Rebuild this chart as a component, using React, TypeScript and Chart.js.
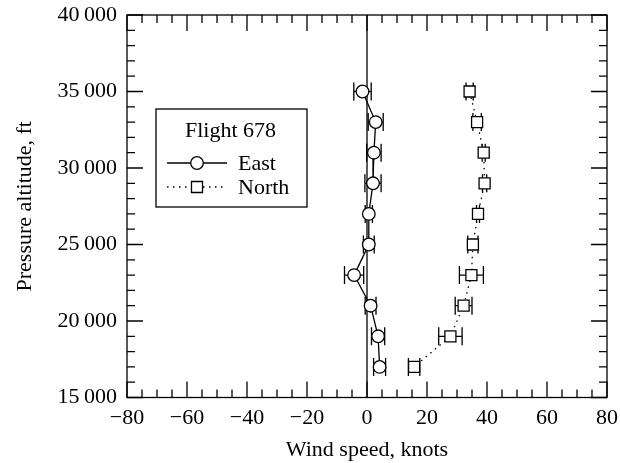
import React, { useEffect, useRef } from "react";
import { Chart, registerables } from "chart.js";
Chart.register(...registerables);

const altitudes = [35000, 33000, 31000, 29000, 27000, 25000, 23000, 21000, 19000, 17000];
const eastSpeed = [-1.5, 2.9, 2.3, 2.0, 0.6, 0.6, -4.3, 1.2, 3.7, 4.2];
const eastError = [2.9, 2.5, 2.4, 2.7, 1.2, 1.8, 3.2, 1.8, 2.2, 2.0];
const northSpeed = [34.2, 36.7, 38.9, 39.2, 37.0, 35.3, 34.8, 32.2, 27.8, 15.7];
const northError = [1.2, 1.4, 0.5, 0.7, 0.5, 1.7, 4.0, 2.8, 3.9, 1.9];
const xTickValues = [-80, -60, -40, -20, 0, 20, 40, 60, 80];
const yTickValues = [15000, 20000, 25000, 30000, 35000, 40000];
const legendTitle = "Flight 678";
const seriesNames = ["East", "North"];

const FONT = "'Liberation Serif', 'Times New Roman', serif";
const FS = 22;
const LW = 1.3;

function fmtNum(v: number): string {
  const neg = v < 0;
  const a = Math.abs(v);
  let s = String(a);
  if (a >= 10000) s = s.slice(0, s.length - 3) + "\u2009" + s.slice(s.length - 3);
  return (neg ? "\u2212" : "") + s;
}

const errorsByDataset = [eastError, northError];

const customPlugin = {
  id: "customDraw",
  beforeDatasetsDraw(chart: any) {
    const { ctx, chartArea: a, scales } = chart;
    const x = scales.x, y = scales.y;
    ctx.save();
    ctx.strokeStyle = "#000";
    ctx.lineWidth = LW;
    ctx.setLineDash([]);
    const x0 = x.getPixelForValue(0);
    ctx.beginPath();
    ctx.moveTo(x0, a.top);
    ctx.lineTo(x0, a.bottom);
    ctx.stroke();
    chart.data.datasets.forEach((ds: any, di: number) => {
      const errs = errorsByDataset[di];
      ds.data.forEach((p: any, i: number) => {
        const e = errs[i];
        const xl = x.getPixelForValue(p.x - e);
        const xr = x.getPixelForValue(p.x + e);
        const yp = y.getPixelForValue(p.y);
        const cap = 9;
        ctx.beginPath();
        ctx.moveTo(xl, yp);
        ctx.lineTo(xr, yp);
        ctx.moveTo(xl, yp - cap);
        ctx.lineTo(xl, yp + cap);
        ctx.moveTo(xr, yp - cap);
        ctx.lineTo(xr, yp + cap);
        ctx.stroke();
      });
    });
    ctx.restore();
  },
  afterDraw(chart: any) {
    const { ctx, chartArea: a, scales } = chart;
    const x = scales.x, y = scales.y;
    ctx.save();
    ctx.strokeStyle = "#000";
    ctx.lineWidth = LW;
    ctx.setLineDash([]);
    const major = 16, minor = 8;
    ctx.beginPath();
    for (let v = x.min; v <= x.max + 1e-9; v += 5) {
      const px = x.getPixelForValue(v);
      const len = Math.abs(v % 20) < 1e-9 ? major : minor;
      ctx.moveTo(px, a.bottom);
      ctx.lineTo(px, a.bottom - len);
      ctx.moveTo(px, a.top);
      ctx.lineTo(px, a.top + len);
    }
    for (let v = y.min; v <= y.max + 1e-9; v += 1000) {
      const py = y.getPixelForValue(v);
      const len = Math.abs(v % 5000) < 1e-9 ? major : minor;
      ctx.moveTo(a.left, py);
      ctx.lineTo(a.left + len, py);
      ctx.moveTo(a.right, py);
      ctx.lineTo(a.right - len, py);
    }
    ctx.stroke();
    ctx.strokeRect(a.left, a.top, a.right - a.left, a.bottom - a.top);

    // legend box
    const bx = 156, by = 109, bw = 151, bh = 98;
    ctx.fillStyle = "#fff";
    ctx.fillRect(bx, by, bw, bh);
    ctx.strokeRect(bx, by, bw, bh);
    ctx.fillStyle = "#000";
    ctx.font = `${FS}px ${FONT}`;
    ctx.textBaseline = "middle";
    ctx.textAlign = "center";
    ctx.fillText(legendTitle, bx + bw / 2 - 1, 131);
    ctx.textAlign = "left";
    const rows = [163, 187];
    const ds = chart.data.datasets;
    rows.forEach((ry, i) => {
      const d = ds[i];
      ctx.save();
      ctx.setLineDash(d.borderDash || []);
      ctx.lineWidth = LW;
      ctx.beginPath();
      ctx.moveTo(167, ry);
      ctx.lineTo(227, ry);
      ctx.stroke();
      ctx.restore();
      ctx.setLineDash([]);
      ctx.fillStyle = "#fff";
      ctx.beginPath();
      if (d.pointStyle === "circle") {
        ctx.arc(197, ry, d.pointRadius, 0, Math.PI * 2);
      } else {
        const s = Math.SQRT1_2 * d.pointRadius;
        ctx.rect(197 - s, ry - s, 2 * s, 2 * s);
      }
      ctx.fill();
      ctx.stroke();
      ctx.fillStyle = "#000";
      ctx.fillText(seriesNames[i], 238, ry + 1);
    });
    ctx.restore();
  },
};

export default function App() {
  const ref = useRef<HTMLCanvasElement>(null);
  useEffect(() => {
    if (!ref.current) return;
    const mk = (sp: number[]) => altitudes.map((alt, i) => ({ x: sp[i], y: alt }));
    const chart = new Chart(ref.current, {
      type: "scatter",
      data: {
        datasets: [
          {
            label: seriesNames[0],
            data: mk(eastSpeed),
            showLine: true,
            borderColor: "#000",
            borderWidth: LW,
            pointStyle: "circle",
            pointRadius: 6.3,
            pointBackgroundColor: "#fff",
            pointBorderColor: "#000",
            pointBorderWidth: LW,
            tension: 0,
          },
          {
            label: seriesNames[1],
            data: mk(northSpeed),
            showLine: true,
            borderColor: "#000",
            borderWidth: LW,
            borderDash: [1.5, 4.5],
            pointStyle: "rect",
            pointRadius: 7.8,
            pointBackgroundColor: "#fff",
            pointBorderColor: "#000",
            pointBorderWidth: LW,
            tension: 0,
          },
        ] as any,
      },
      options: {
        responsive: false,
        animation: false,
        events: [],
        layout: { padding: { left: 0, top: 15, right: 13, bottom: 0 } },
        plugins: { legend: { display: false }, tooltip: { enabled: false } },
        scales: {
          x: {
            type: "linear",
            min: -80,
            max: 80,
            afterBuildTicks: (s: any) => {
              s.ticks = xTickValues.map((v) => ({ value: v }));
            },
            afterFit: (s: any) => {
              s.height = 65.5;
              s.paddingLeft = 0;
              s.paddingRight = 0;
              s.paddingTop = 0;
              s.paddingBottom = 0;
            },
            grid: { display: false, drawTicks: false },
            border: { display: false },
            ticks: {
              color: "#000",
              font: { family: FONT, size: FS },
              padding: 8,
              maxRotation: 0,
              autoSkip: false,
              callback: (v: any) => fmtNum(Number(v)),
            },
            title: {
              display: true,
              text: "Wind speed, knots",
              color: "#000",
              font: { family: FONT, size: FS },
              padding: { top: 0, bottom: 0 },
            },
          },
          y: {
            type: "linear",
            min: 15000,
            max: 40000,
            afterBuildTicks: (s: any) => {
              s.ticks = yTickValues.map((v) => ({ value: v }));
            },
            afterFit: (s: any) => {
              s.width = 127;
              s.paddingLeft = 0;
              s.paddingRight = 0;
              s.paddingTop = 0;
              s.paddingBottom = 0;
            },
            grid: { display: false, drawTicks: false },
            border: { display: false },
            ticks: {
              color: "#000",
              font: { family: FONT, size: FS },
              padding: 10,
              autoSkip: false,
              callback: (v: any) => fmtNum(Number(v)),
            },
            title: {
              display: true,
              text: "Pressure altitude, ft",
              color: "#000",
              font: { family: FONT, size: FS },
              padding: { top: 11.8, bottom: 0 },
            },
          },
        },
      },
      plugins: [customPlugin],
    });
    return () => chart.destroy();
  }, []);
  return (
    <div style={{ position: "fixed", left: 0, top: 0, width: 620, height: 463, background: "#fff" }}>
      <canvas ref={ref} width={620} height={463} />
    </div>
  );
}
